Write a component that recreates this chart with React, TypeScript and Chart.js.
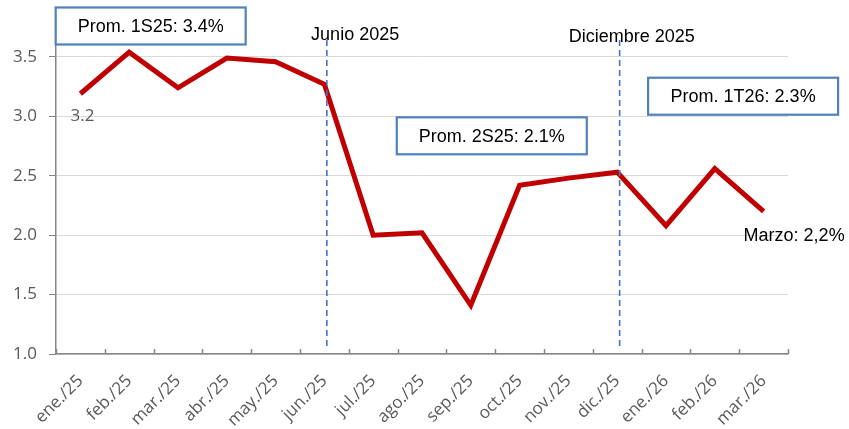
import React, { useEffect, useRef } from "react";
import { Chart, registerables } from "chart.js";

Chart.register(...registerables);

const categories = [
  "ene./25", "feb./25", "mar./25", "abr./25", "may./25", "jun./25",
  "jul./25", "ago./25", "sep./25", "oct./25", "nov./25", "dic./25",
  "ene./26", "feb./26", "mar./26",
];
const inflation = [3.19, 3.54, 3.24, 3.49, 3.46, 3.27, 2.0, 2.02, 1.41, 2.42, 2.48, 2.53, 2.08, 2.56, 2.2];
const yTicks = [1.0, 1.5, 2.0, 2.5, 3.0, 3.5];

// vertical markers: category index (slightly right of the point) and text
const markerIndex = [5.05, 11.05];
const markerText = ["Junio 2025", "Diciembre 2025"];
const markerTextX = [5.63, 11.3];
const markerTextY = [3.68, 3.67];

// boxed averages
const boxText = ["Prom. 1S25: 3.4%", "Prom. 2S25: 2.1%", "Prom. 1T26: 2.3%"];
const boxX = [1.44, 8.43, 13.58];
const boxY = [3.76, 2.836, 3.169];

const firstLabel = "3.2";
const lastLabel = "Marzo: 2,2%";

const ARIAL = "'Liberation Sans', Arial, sans-serif";
const TICKFONT = "'Open Sans', sans-serif";

const annotPlugin = {
  id: "annot",
  beforeDatasetsDraw(chart: any) {
    const { ctx, chartArea, scales } = chart;
    const x = scales.x;
    ctx.save();
    ctx.strokeStyle = "#868686";
    ctx.lineWidth = 1.5;
    for (let i = 0; i <= categories.length; i++) {
      const px = Math.round(x.getPixelForValue(i - 0.5)) + 0.5;
      ctx.beginPath();
      ctx.moveTo(px, chartArea.bottom);
      ctx.lineTo(px, chartArea.bottom - 5);
      ctx.stroke();
    }
    ctx.restore();
  },
  afterDatasetsDraw(chart: any) {
    const { ctx, chartArea, scales } = chart;
    const x = scales.x;
    const y = scales.y;
    ctx.save();
    // dashed markers
    ctx.strokeStyle = "#4472C4";
    ctx.lineWidth = 1.6;
    ctx.setLineDash([6, 4]);
    markerIndex.forEach((mi) => {
      const px = x.getPixelForValue(mi);
      ctx.beginPath();
      ctx.moveTo(px, chartArea.top - 5);
      ctx.lineTo(px, chartArea.bottom - 5);
      ctx.stroke();
    });
    ctx.setLineDash([]);
    ctx.fillStyle = "#000";
    ctx.font = `18px ${ARIAL}`;
    ctx.textAlign = "center";
    ctx.textBaseline = "middle";
    markerText.forEach((t, i) => {
      ctx.fillText(t, x.getPixelForValue(markerTextX[i]), y.getPixelForValue(markerTextY[i]));
    });
    // boxes
    const bw = 190;
    const bh = 37;
    boxText.forEach((t, i) => {
      const cx = x.getPixelForValue(boxX[i]);
      const cy = y.getPixelForValue(boxY[i]);
      ctx.fillStyle = "#fff";
      ctx.fillRect(cx - bw / 2, cy - bh / 2, bw, bh);
      ctx.strokeStyle = "#4F81BD";
      ctx.lineWidth = 2.2;
      ctx.strokeRect(cx - bw / 2, cy - bh / 2, bw, bh);
      ctx.fillStyle = "#000";
      ctx.fillText(t, cx, cy + 1);
    });
    // point labels
    const meta = chart.getDatasetMeta(0);
    const p0 = meta.data[0];
    ctx.fillStyle = "#595959";
    ctx.font = `17px ${TICKFONT}`;
    ctx.textAlign = "center";
    ctx.fillText(firstLabel, p0.x + 2, p0.y + 22);
    const pl = meta.data[meta.data.length - 1];
    ctx.fillStyle = "#000";
    ctx.font = `18px ${ARIAL}`;
    ctx.textAlign = "left";
    ctx.fillText(lastLabel, pl.x - 20, pl.y + 25);
    ctx.restore();
  },
};

export default function App() {
  const ref = useRef<HTMLCanvasElement | null>(null);
  useEffect(() => {
    document.body.style.margin = "0";
    const canvas = ref.current;
    if (!canvas) return;
    const chart = new Chart(canvas, {
      type: "line",
      data: {
        labels: categories,
        datasets: [
          {
            data: inflation,
            borderColor: "#C00000",
            borderWidth: 5,
            borderJoinStyle: "miter",
            borderCapStyle: "butt",
            pointRadius: 0,
            fill: false,
            tension: 0,
          },
        ],
      },
      options: {
        responsive: false,
        animation: false,
        devicePixelRatio: 1,
        layout: { padding: { top: 45, right: 61, left: 0, bottom: 0 } },
        plugins: { legend: { display: false }, tooltip: { enabled: false } },
        scales: {
          x: {
            type: "category",
            offset: true,
            grid: { display: false },
            border: { display: true, color: "#868686", width: 1.5 },
            ticks: {
              color: "#595959",
              font: { family: TICKFONT, size: 17 },
              maxRotation: 45,
              minRotation: 45,
              padding: 9,
              autoSkip: false,
            },
            afterFit: (s: any) => {
              s.height = 75;
            },
          },
          y: {
            min: 1,
            max: 3.6,
            afterBuildTicks: (s: any) => {
              s.ticks = yTicks.map((v) => ({ value: v }));
            },
            grid: { color: "#D9D9D9", lineWidth: 1, tickLength: 7, tickColor: "#868686" },
            border: { display: true, color: "#868686", width: 1.5 },
            ticks: {
              color: "#595959",
              font: { family: TICKFONT, size: 17 },
              padding: 12,
              callback: (v: any) => Number(v).toFixed(1),
            },
            afterFit: (s: any) => {
              s.width = 56;
            },
          },
        },
      },
      plugins: [annotPlugin],
    });
    return () => chart.destroy();
  }, []);
  return (
    <div style={{ width: 849, height: 429, background: "#fff" }}>
      <canvas ref={ref} width={849} height={429} style={{ display: "block" }} />
    </div>
  );
}
